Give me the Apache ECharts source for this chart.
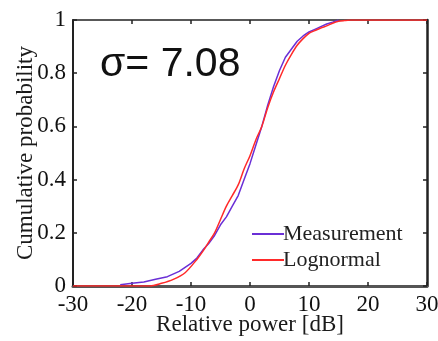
<!DOCTYPE html>
<html>
<head>
<meta charset="utf-8">
<script src="https://cdn.jsdelivr.net/npm/echarts@6/dist/echarts.min.js"></script>
<style>
html,body{margin:0;padding:0;background:#fff;}
#chart{width:438px;height:341px;}
</style>
</head>
<body>
<div id="chart"></div>
<script>
// Relative power [dB] and cumulative probability for the measured data
const measX = [-22, -20, -18, -16, -14, -12, -10, -9, -8, -7, -6, -5, -4, -3, -2, -1, 0, 1, 2, 3, 4, 5, 6, 7, 8, 9, 10, 11, 12, 13, 14, 15];
const measY = [0.005, 0.01, 0.015, 0.025, 0.035, 0.055, 0.085, 0.105, 0.135, 0.16, 0.19, 0.23, 0.26, 0.3, 0.34, 0.4, 0.46, 0.53, 0.6, 0.68, 0.75, 0.81, 0.86, 0.89, 0.92, 0.94, 0.955, 0.965, 0.975, 0.985, 0.992, 1];

// Fitted log-normal distribution
const fitX = [-30, -17, -15, -13, -11, -9, -8, -7, -6, -5, -4, -3, -2, -1, 0, 1, 2, 3, 4, 5, 6, 7, 8, 9, 10, 11, 12, 13, 14, 15, 16, 17, 30];
const fitY = [0, 0, 0.01, 0.025, 0.05, 0.1, 0.13, 0.165, 0.2, 0.25, 0.3, 0.34, 0.38, 0.44, 0.49, 0.55, 0.6, 0.67, 0.73, 0.78, 0.83, 0.87, 0.905, 0.93, 0.95, 0.96, 0.97, 0.978, 0.988, 0.995, 0.998, 1, 1];

const sigmaText = 'σ= 7.08';

const pairs = (xs, ys) => xs.map((x, i) => [x, ys[i]]);

const serif = '"Liberation Serif", "DejaVu Serif", serif';
const measColor = '#6a2fd6';
const fitColor = '#ff2a2a';
const chart = echarts.init(document.getElementById('chart'));

const tickStyle = { show: true, inside: true, length: 4, lineStyle: { color: '#222', width: 1.5 } };

chart.setOption({
  animation: false,
  backgroundColor: '#fff',
  grid: { left: 73, right: 11, top: 20, bottom: 55, show: false, containLabel: false, outerBoundsMode: 'none' },
  legend: {
    orient: 'vertical',
    left: 247,
    top: 218,
    itemWidth: 32,
    itemHeight: 2,
    itemGap: 4,
    icon: 'rect',
    textStyle: { fontFamily: serif, fontSize: 22, color: '#222', padding: [0, 0, 0, -6] },
    data: ['Measurement', 'Lognormal']
  },
  graphic: [{
    type: 'text',
    left: 100,
    top: 44,
    style: { text: sigmaText, font: '41px "Liberation Sans", Arial, sans-serif', fill: '#111' }
  }],
  xAxis: [{
    type: 'value', min: -30, max: 30, interval: 10, position: 'bottom',
    name: 'Relative power [dB]', nameLocation: 'middle', nameGap: 27, nameMoveOverlap: false,
    nameTextStyle: { fontFamily: serif, fontSize: 23, color: '#1a1a1a' },
    axisLine: { show: true, onZero: false, lineStyle: { color: '#555', width: 3 } },
    axisTick: tickStyle,
    axisLabel: { fontFamily: serif, fontSize: 23, color: '#111', margin: 7 },
    splitLine: { show: false }
  }, {
    type: 'value', min: -30, max: 30, interval: 10, position: 'top',
    axisLine: { show: true, onZero: false, lineStyle: { color: '#222', width: 1.5 } },
    axisTick: tickStyle,
    axisLabel: { show: false },
    splitLine: { show: false }
  }],
  yAxis: [{
    type: 'value', min: 0, max: 1, interval: 0.2, position: 'left',
    name: 'Cumulative probability', nameLocation: 'middle', nameGap: 36, nameMoveOverlap: false,
    nameTextStyle: { fontFamily: serif, fontSize: 23, color: '#1a1a1a' },
    axisLine: { show: true, onZero: false, lineStyle: { color: '#222', width: 2 } },
    axisTick: tickStyle,
    axisLabel: { fontFamily: serif, fontSize: 23, color: '#111', margin: 7 },
    splitLine: { show: false }
  }, {
    type: 'value', min: 0, max: 1, interval: 0.2, position: 'right',
    axisLine: { show: true, onZero: false, lineStyle: { color: '#222', width: 2.5 } },
    axisTick: tickStyle,
    axisLabel: { show: false },
    splitLine: { show: false }
  }],
  series: [{
    name: 'Measurement', type: 'line', symbol: 'none', smooth: false,
    data: pairs(measX, measY),
    lineStyle: { color: measColor, width: 1.5 },
    itemStyle: { color: measColor },
    z: 2
  }, {
    name: 'Lognormal', type: 'line', symbol: 'none', smooth: 0.3,
    data: pairs(fitX, fitY),
    lineStyle: { color: fitColor, width: 1.5 },
    itemStyle: { color: fitColor },
    z: 3
  }]
});
</script>
</body>
</html>
